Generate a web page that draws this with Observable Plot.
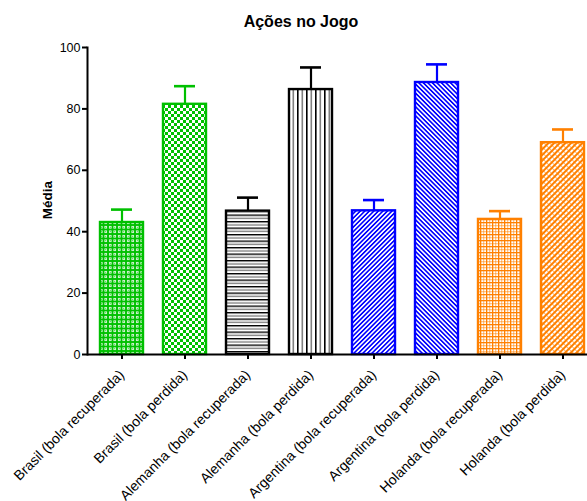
<!DOCTYPE html>
<html>
<head>
<meta charset="utf-8">
<script src="https://cdn.jsdelivr.net/npm/d3@7"></script>
<script src="https://cdn.jsdelivr.net/npm/@observablehq/plot@0.6"></script>
<style>
  body { margin: 0; background: #fff; }
  #wrap { position: relative; width: 587px; height: 501px; font-family: "Liberation Sans", Arial, sans-serif; }
  #title { position: absolute; left: 0; width: 602px; top: 13px; text-align: center; font-weight: bold; font-size: 16px; }
  #ylab { position: absolute; left: 47px; top: 200px; transform: translate(-50%, -50%) rotate(-90deg); font-weight: bold; font-size: 13.5px; white-space: nowrap; }
  #chart { position: absolute; left: 0; top: 0; }
</style>
</head>
<body>
<div id="wrap">
  <div id="chart"></div>
  <div id="title">Ações no Jogo</div>
  <div id="ylab">Média</div>
</div>
<script>
const categories = [
  "Brasil (bola recuperada)", "Brasil (bola perdida)",
  "Alemanha (bola recuperada)", "Alemanha (bola perdida)",
  "Argentina (bola recuperada)", "Argentina (bola perdida)",
  "Holanda (bola recuperada)", "Holanda (bola perdida)"
];
const means = [43.0, 81.5, 46.7, 86.3, 46.8, 88.6, 44.0, 69.0];
const errors = [4.2, 5.9, 4.4, 7.2, 3.5, 5.9, 2.7, 4.3];
const yTicks = [0, 20, 40, 60, 80, 100];

const green = "#00c000", black = "#000000", blue = "#0000ff", orange = "#ff8000";
const strokes = [green, green, black, black, blue, blue, orange, orange];

const data = categories.map((c, i) => ({cat: c, mean: means[i], err: errors[i], i}));

const chart = Plot.plot({
  width: 587,
  height: 501,
  marginLeft: 87,
  marginRight: 0,
  marginTop: 47,
  marginBottom: 147,
  style: {fontFamily: "'Liberation Sans', Arial, sans-serif", fontSize: "12px", color: "#000", background: "#fff"},
  x: {domain: categories, range: [87, 597], paddingInner: 0.31, paddingOuter: 0.15, label: null},
  y: {domain: [0, 100], label: null},
  color: {type: "identity"},
  marks: [
    Plot.barY(data, {x: "cat", y: "mean", fill: d => `url(#pat${d.i})`, stroke: d => strokes[d.i], strokeWidth: 2.4}),
    Plot.ruleX(data, {x: "cat", y1: "mean", y2: d => d.mean + d.err, stroke: d => strokes[d.i], strokeWidth: 2.2}),
    Plot.tickY(data, {x: "cat", y: d => d.mean + d.err, stroke: d => strokes[d.i], strokeWidth: 2.6, insetLeft: 11, insetRight: 11}),
    Plot.axisY({ticks: yTicks, tickSize: 5, tickPadding: 2, strokeWidth: 2, label: null, fontSize: 12.5}),
    Plot.axisX({tickRotate: -45, tickSize: 5, tickPadding: 13, strokeWidth: 2, label: null, fontSize: 14}),
    Plot.frame({anchor: "left", strokeWidth: 2}),
    Plot.ruleY([0], {strokeWidth: 2})
  ]
});

document.getElementById("chart").appendChild(chart);

// Hatch patterns
const svg = d3.select(chart);
const defs = svg.insert("defs", ":first-child");
function pat(id, w, h, transform) {
  const p = defs.append("pattern").attr("id", id).attr("patternUnits", "userSpaceOnUse").attr("width", w).attr("height", h);
  if (transform) p.attr("patternTransform", transform);
  p.append("rect").attr("width", w).attr("height", h).attr("fill", "#fff");
  return p;
}
// 0: Brasil recuperada — small rings on green
{
  const p = pat("pat0", 4.5, 4.5);
  p.append("rect").attr("width", 4.5).attr("height", 4.5).attr("fill", green);
  p.append("rect").attr("x", 1).attr("y", 1).attr("width", 2.5).attr("height", 2.5).attr("fill", "#fff");
  p.append("rect").attr("x", 1.8).attr("y", 1.8).attr("width", 0.9).attr("height", 0.9).attr("fill", green);
}
// 1: Brasil perdida — checkerboard
{
  const p = pat("pat1", 6, 6);
  p.append("rect").attr("width", 6).attr("height", 6).attr("fill", green);
  p.append("rect").attr("x", 0).attr("y", 0).attr("width", 3).attr("height", 3).attr("fill", "#fff");
  p.append("rect").attr("x", 3).attr("y", 3).attr("width", 3).attr("height", 3).attr("fill", "#fff");
}
// 2: Alemanha recuperada — horizontal lines
{
  const p = pat("pat2", 6, 6.5);
  p.append("rect").attr("y", 0).attr("width", 6).attr("height", 1.4).attr("fill", "#000");
  p.append("rect").attr("y", 3.25).attr("width", 6).attr("height", 1.4).attr("fill", "#808080");
}
// 3: Alemanha perdida — vertical lines
{
  const p = pat("pat3", 9, 6);
  p.append("rect").attr("x", 0).attr("width", 1.6).attr("height", 6).attr("fill", "#000");
  p.append("rect").attr("x", 4.5).attr("width", 1.6).attr("height", 6).attr("fill", "#808080");
}
// 4: Argentina recuperada — "/" diagonals
{
  const p = pat("pat4", 3.2, 3.2, "rotate(45)");
  p.append("rect").attr("width", 1.6).attr("height", 3.2).attr("fill", blue);
}
// 5: Argentina perdida — "\" diagonals
{
  const p = pat("pat5", 3.2, 3.2, "rotate(-45)");
  p.append("rect").attr("width", 1.6).attr("height", 3.2).attr("fill", blue);
}
// 6: Holanda recuperada — grid
{
  const p = pat("pat6", 6, 6);
  p.append("rect").attr("x", 0).attr("width", 1.3).attr("height", 6).attr("fill", orange);
  p.append("rect").attr("y", 0).attr("width", 6).attr("height", 1.3).attr("fill", orange);
  p.append("rect").attr("x", 3).attr("width", 1.3).attr("height", 6).attr("fill", orange).attr("opacity", 0.45);
  p.append("rect").attr("y", 3).attr("width", 6).attr("height", 1.3).attr("fill", orange).attr("opacity", 0.45);
}
// 7: Holanda perdida — dense diagonal weave
{
  const p = pat("pat7", 4, 4, "rotate(45)");
  p.append("rect").attr("width", 2).attr("height", 4).attr("fill", orange);
  p.append("rect").attr("x", 2).attr("y", 0).attr("width", 2).attr("height", 1).attr("fill", orange).attr("opacity", 0.6);
}
</script>
</body>
</html>
